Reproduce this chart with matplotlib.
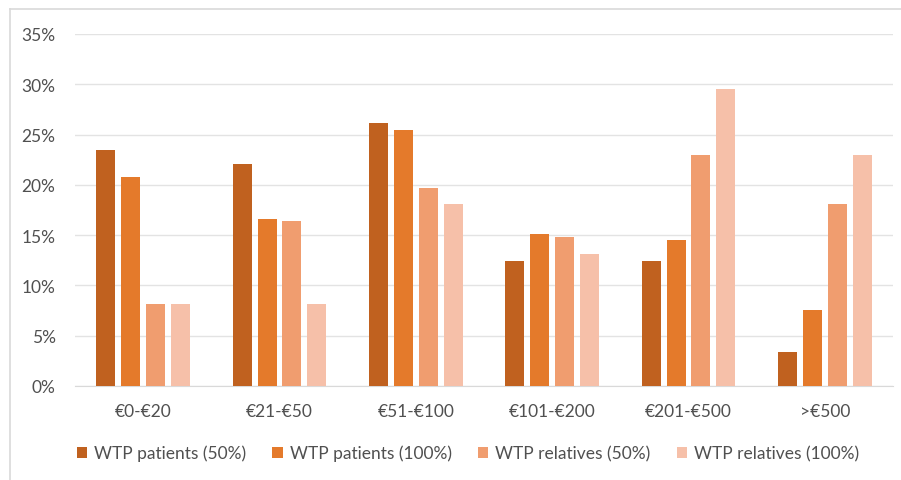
import matplotlib
matplotlib.use("Agg")
import matplotlib.pyplot as plt
import numpy as np
from matplotlib.ticker import FuncFormatter

categories = ["€0-€20", "€21-€50", "€51-€100", "€101-€200", "€201-€500", ">€500"]
series_names = ["WTP patients (50%)", "WTP patients (100%)", "WTP relatives (50%)", "WTP relatives (100%)"]
patients_50 = [23.5, 22.1, 26.2, 12.4, 12.4, 3.4]
patients_100 = [20.8, 16.6, 25.5, 15.1, 14.5, 7.6]
relatives_50 = [8.2, 16.4, 19.7, 14.8, 23.0, 18.1]
relatives_100 = [8.2, 8.2, 18.1, 13.1, 29.5, 23.0]
colors = ["#C0611F", "#E47A2B", "#F09D6F", "#F6C0A9"]

plt.rcParams['font.family'] = ['Lato', 'DejaVu Sans']
text_color = "#505050"

fig = plt.figure(figsize=(9.01, 4.81), dpi=100)
ax = fig.add_axes([75/901, 1-387/481, 818/901, (387-35)/481])

x = np.arange(len(categories))
width = 0.139
step = 0.183
data = [patients_50, patients_100, relatives_50, relatives_100]
for i, (vals, name, c) in enumerate(zip(data, series_names, colors)):
    ax.bar(x + (i - 1.5) * step, vals, width, color=c, label=name, zorder=3)

ax.set_xlim(-0.5, len(categories) - 0.5)
ax.set_ylim(0, 35)
ax.set_yticks(np.arange(0, 36, 5))
ax.yaxis.set_major_formatter(FuncFormatter(lambda v, p: f"{int(v)}%"))
ax.grid(axis='y', color="#E3E3E3", linewidth=1.0, zorder=0)
for s in ax.spines.values():
    s.set_visible(False)
ax.spines['bottom'].set_visible(True)
ax.spines['bottom'].set_color("#D9D9D9")
ax.tick_params(axis='both', length=0, colors=text_color, labelsize=12.5)
ax.tick_params(axis='y', pad=14)
ax.tick_params(axis='x', pad=12)
ax.set_xticks(x)
ax.set_xticklabels(categories)

leg = fig.legend(loc='center', bbox_to_anchor=(468/901, 1-454/481), ncol=4, frameon=False,
                 fontsize=12.5, handlelength=0.6, handleheight=0.6, handletextpad=0.4,
                 columnspacing=1.5, labelcolor=text_color)

# outer border (left and top)
fig.add_artist(plt.Line2D([10/901, 10/901], [0, 1-10/481], transform=fig.transFigure, color="#D9D9D9", lw=1.2))
fig.add_artist(plt.Line2D([10/901, 1], [1-10/481, 1-10/481], transform=fig.transFigure, color="#D9D9D9", lw=1.2))

fig.savefig("out.png", dpi=100)
